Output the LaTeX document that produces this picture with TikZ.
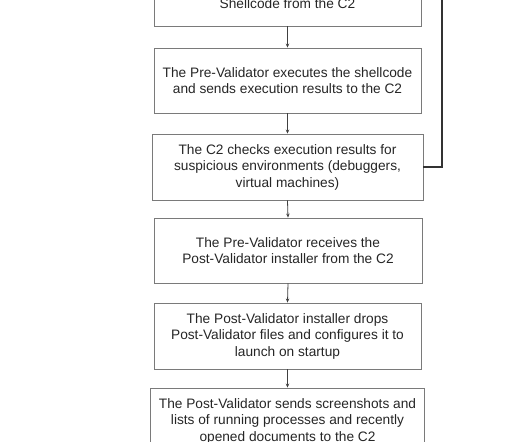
\documentclass[tikz,border=0pt]{standalone}
\usepackage{fontspec}
\setmainfont{Liberation Sans}
\usetikzlibrary{arrows.meta,positioning}
\tikzset{
  box/.style={draw=black!52, line width=0.9pt, align=center, inner sep=0pt,
    font=\fontsize{13.7pt}{16.5pt}\selectfont, text=black!85},
  arr/.style={draw=black!75, line width=0.8pt, -{Stealth[length=4pt,width=3.5pt]}},
  fb/.style={draw=black!80, line width=1.5pt}
}
\begin{document}
\begin{tikzpicture}[x=1pt,y=-1pt]
\useasboundingbox (0,0) rectangle (531,442);
\clip (0,0) rectangle (531,442);
\fill[white] (0,0) rectangle (531,442);
\node[box, minimum width=267pt, minimum height=66pt] (b1) at (287.5,-7) {};
\node[font=\fontsize{13.7pt}{16.5pt}\selectfont, text=black!85, inner sep=0pt, anchor=base] (t1) at (287.5,8.5) {Shellcode from the C2};
\node[box, minimum width=267pt, minimum height=65pt] (b2) at (287.5,80.5)
  {The Pre-Validator executes the shellcode\\and sends execution results to the C2};
\node[box, minimum width=271pt, minimum height=66pt] (b3) at (287.5,167)
  {The C2 checks execution results for\\suspicious environments (debuggers,\\virtual machines)};
\node[box, minimum width=268pt, minimum height=65pt] (b4) at (288,250.5)
  {The Pre-Validator receives the\\Post-Validator installer from the C2};
\node[box, minimum width=267pt, minimum height=66pt] (b5) at (287.5,336)
  {The Post-Validator installer drops\\Post-Validator files and configures it to\\launch on startup};
\node[box, minimum width=274pt, minimum height=66pt] (b6) at (287.5,421)
  {The Post-Validator sends screenshots and\\lists of running processes and recently\\opened documents to the C2};
\draw[arr] (b1.south) -- (b2.north);
\draw[arr] (b2.south) -- (b3.north);
\draw[arr] (b3.south) -- (b4.north);
\draw[arr] (b4.south) -- (b5.north);
\draw[arr] (b5.south) -- (b6.north);
\coordinate (fbtop) at (442,-10);
\draw[fb] (b3.east) -- (442,167) -- (fbtop);
\end{tikzpicture}
\end{document}
